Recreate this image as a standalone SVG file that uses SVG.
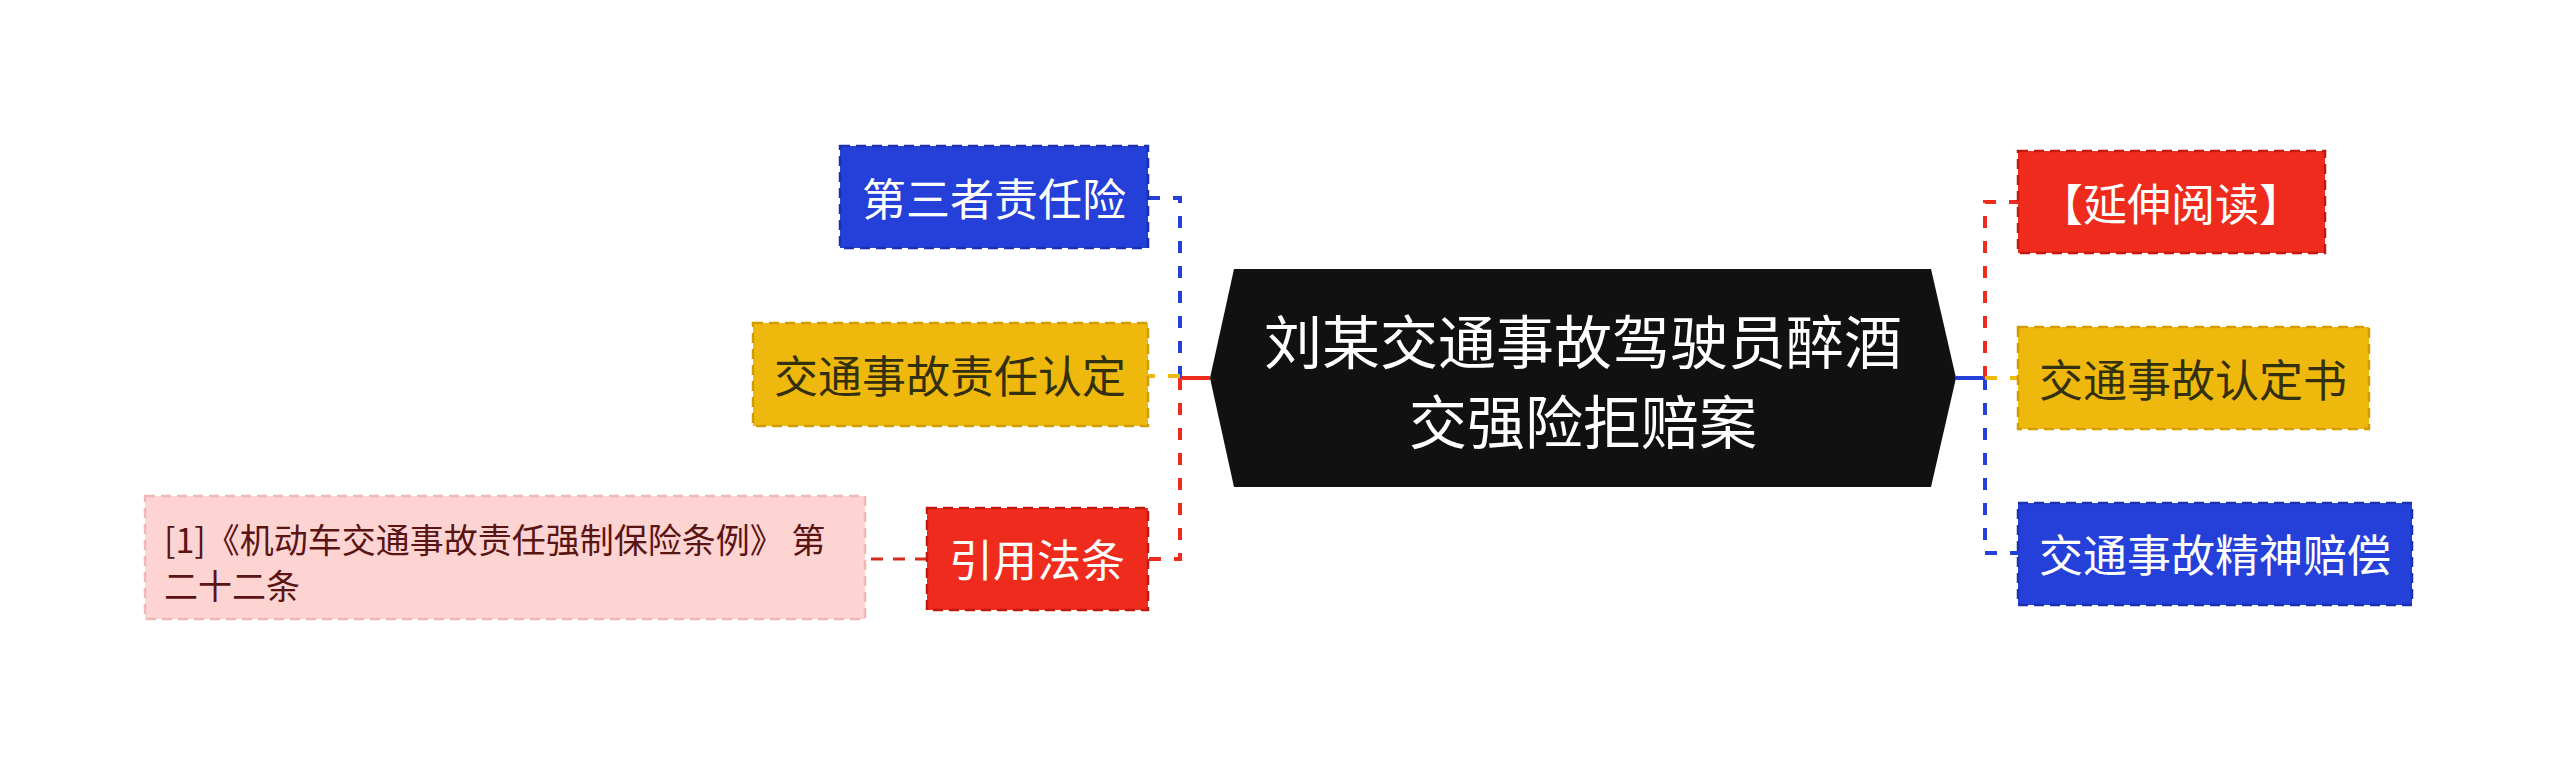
<svg xmlns="http://www.w3.org/2000/svg" width="2560" height="767" viewBox="0 0 2560 767">
<style>
text{font-family:"Noto Sans CJK SC","Noto Sans",sans-serif;dominant-baseline:central}
.box{stroke-width:2.5;stroke-dasharray:10 6}
.blue{fill:#2540d8;stroke:#1a30b0}
.red{fill:#ee2b1c;stroke:#c01a10}
.yel{fill:#efb80c;stroke:#d09c00}
.pink{fill:#fdd4d2;stroke:#f0b8b5}
.t{font-size:44px;text-anchor:middle}
.w{fill:#ffffff}
.d{fill:#33300f}
.c{stroke-width:4;fill:none;stroke-dasharray:12 13}
</style>
<rect width="2560" height="767" fill="#ffffff"/>
<g id="connectors">
<path d="M1210 378 H1180" stroke="#ee2b1c" stroke-width="4" fill="none"/>
<path class="c" d="M1180 378 V198 H1148" stroke="#2540d8"/>
<path class="c" d="M1180 378 V559 H1148" stroke="#ee2b1c"/>
<path class="c" d="M1180 376 H1148" stroke="#efb80c"/>
<path d="M927 559 H865" stroke="#d42a20" stroke-width="3" fill="none" stroke-dasharray="12 10"/>
<path d="M1956 378 H1985" stroke="#2540d8" stroke-width="4" fill="none"/>
<path class="c" d="M1985 378 V202 H2018" stroke="#ee2b1c"/>
<path class="c" d="M1985 378 V553 H2018" stroke="#2540d8"/>
<path class="c" d="M1985 378 H2018" stroke="#efb80c"/>
</g>
<g id="root">
<polygon points="1234,269 1931,269 1956,378 1931,487 1234,487 1210,378" fill="#111111"/>
<text x="1583" y="339" font-size="58" text-anchor="middle" fill="#ffffff">刘某交通事故驾驶员醉酒</text>
<text x="1583" y="419" font-size="58" text-anchor="middle" fill="#ffffff">交强险拒赔案</text>
</g>
<g id="n1">
<rect class="box blue" x="840" y="146" width="308" height="102"/>
<text class="t w" x="994" y="197">第三者责任险</text>
</g>
<g id="n2">
<rect class="box yel" x="753" y="323" width="395" height="103"/>
<text class="t d" x="950" y="374">交通事故责任认定</text>
</g>
<g id="n3">
<rect class="box red" x="927" y="508" width="221" height="102"/>
<text class="t w" x="1037" y="558">引用法条</text>
</g>
<g id="n4">
<rect class="box pink" x="145" y="496" width="720" height="123"/>
<text font-size="34" fill="#5a1414"><tspan x="164" y="538">[1]《机动车交通事故责任强制保险条例》 第</tspan><tspan x="164" y="584">二十二条</tspan></text>
</g>
<g id="n5">
<rect class="box red" x="2018" y="151" width="307" height="102"/>
<text class="t w" x="2171" y="202">【延伸阅读】</text>
</g>
<g id="n6">
<rect class="box yel" x="2018" y="327" width="351" height="102"/>
<text class="t d" x="2193" y="378">交通事故认定书</text>
</g>
<g id="n7">
<rect class="box blue" x="2018" y="503" width="394" height="102"/>
<text class="t w" x="2215" y="553">交通事故精神赔偿</text>
</g>
</svg>
